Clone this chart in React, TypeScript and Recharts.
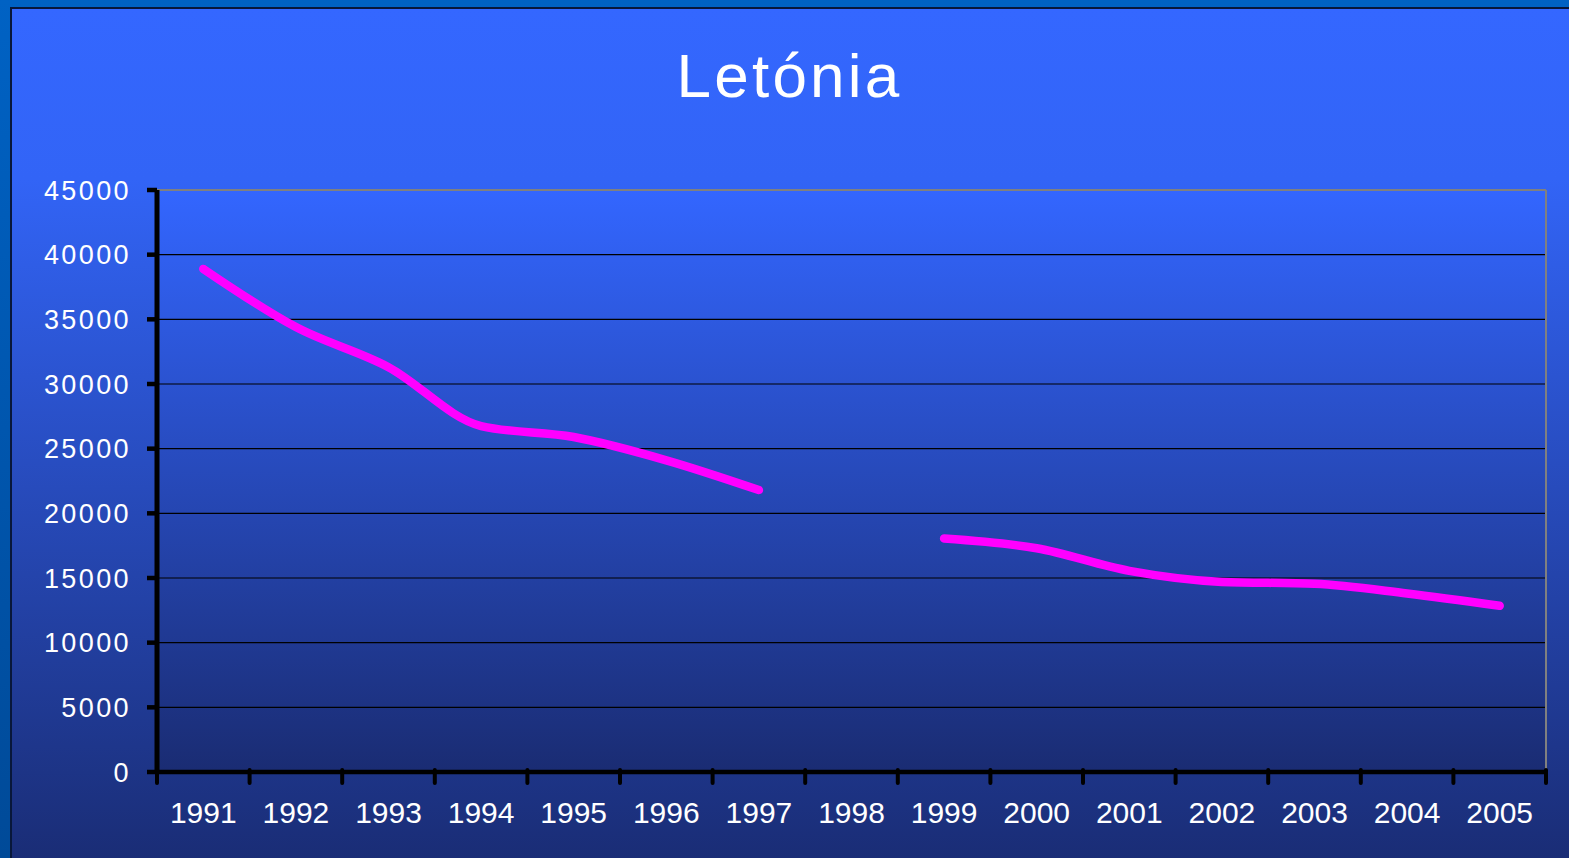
import { LineChart, Line, XAxis, YAxis, CartesianGrid, ReferenceLine } from "recharts"

const years = [1991, 1992, 1993, 1994, 1995, 1996, 1997, 1998, 1999, 2000, 2001, 2002, 2003, 2004, 2005]
// 1998 has no value, the line is broken there
const values: (number | null)[] = [38900, 34400, 31300, 26750, 25900, 24100, 21800, null, 18050, 17300, 15550, 14700, 14550, 13800, 12850]
const yTicks = [0, 5000, 10000, 15000, 20000, 25000, 30000, 35000, 40000, 45000]

const data = years.map((year, i) => ({ year, value: values[i] }))
// tick marks sit between the years, labels sit on the years
const xTicks = [years[0] - 0.5, ...years.flatMap((y) => [y, y + 0.5])]

const FONT = "'Liberation Sans', Arial, Helvetica, sans-serif"

function YearTick(props: any) {
  const { x, y, payload } = props
  const v = payload.value as number
  if (!Number.isInteger(v)) {
    return <line x1={x} x2={x} y1={y - 2} y2={y + 11} stroke="#000" strokeWidth={4} strokeLinecap="round" />
  }
  return (
    <text x={x} y={y + 51} textAnchor="middle" fill="#fff" fontSize={30} fontFamily={FONT}>
      {v}
    </text>
  )
}

export default function App() {
  return (
    <div style={{ position: "fixed", left: 0, top: 0, width: 1569, height: 858, overflow: "hidden", background: "linear-gradient(#0062c4, #004a98)" }}>
      <div
        style={{
          position: "absolute",
          left: 10,
          top: 7,
          width: 1559,
          height: 851,
          boxSizing: "border-box",
          borderLeft: "2px solid #08173a",
          borderTop: "2px solid #08173a",
          background: "linear-gradient(#3467ff 0%, #3264f6 20%, #1a2d76 100%)",
        }}
      />
      <div
        style={{
          position: "absolute",
          left: 10,
          top: 45,
          width: 1559,
          textAlign: "center",
          color: "#fff",
          fontFamily: FONT,
          fontSize: 62,
          lineHeight: "62px",
          letterSpacing: 3.2,
        }}
      >
        Letónia
      </div>
      <div style={{ position: "absolute", left: 10, top: 8 }}>
        <LineChart width={1559} height={850} data={data} margin={{ top: 182, right: 23, bottom: 0, left: 0 }}>
          <defs>
            <linearGradient id="plotBg" x1="0" y1="0" x2="0" y2="1">
              <stop offset="0%" stopColor="#3366ff" />
              <stop offset="100%" stopColor="#1a2c73" />
            </linearGradient>
          </defs>
          <CartesianGrid vertical={false} stroke="#000" strokeWidth={1.2} fill="url(#plotBg)" fillOpacity={1} />
          <XAxis
            dataKey="year"
            type="number"
            domain={[years[0] - 0.5, years[years.length - 1] + 0.5]}
            ticks={xTicks}
            interval={0}
            height={86}
            tickSize={0}
            tickMargin={0}
            tickLine={false}
            axisLine={{ stroke: "#000", strokeWidth: 4.5 }}
            tick={<YearTick />}
          />
          <YAxis
            domain={[0, 45000]}
            ticks={yTicks}
            interval={0}
            width={147}
            tickSize={10}
            tickMargin={16}
            tickLine={{ stroke: "#000", strokeWidth: 4.5 }}
            axisLine={{ stroke: "#000", strokeWidth: 5 }}
            tick={{ fill: "#fff", fontSize: 27, fontFamily: FONT, letterSpacing: 2.4 }}
          />
          <ReferenceLine y={45000} stroke="#808080" strokeWidth={2} />
          <ReferenceLine x={years[years.length - 1] + 0.5} stroke="#808080" strokeWidth={2} />
          <Line
            dataKey="value"
            type="monotone"
            stroke="#ff00ff"
            strokeWidth={8.5}
            strokeLinecap="round"
            dot={false}
            activeDot={false}
            connectNulls={false}
            isAnimationActive={false}
          />
        </LineChart>
      </div>
    </div>
  )
}
